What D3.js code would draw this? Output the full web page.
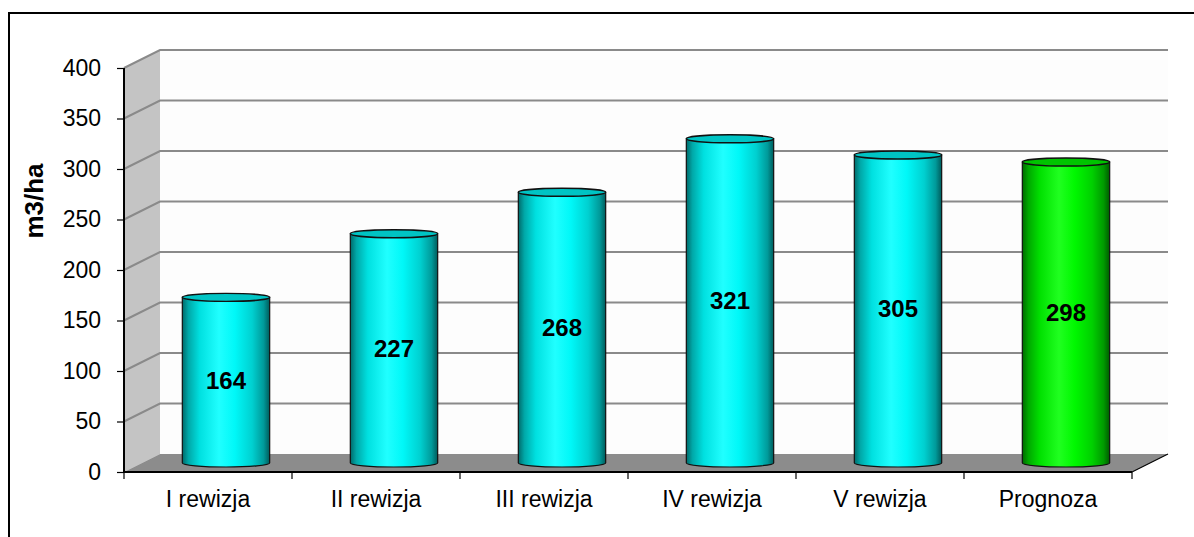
<!DOCTYPE html>
<html>
<head>
<meta charset="utf-8">
<script src="https://cdn.jsdelivr.net/npm/d3@7"></script>
<style>
  html, body { margin: 0; padding: 0; background: #ffffff; }
  svg { display: block; font-family: "Liberation Sans", Arial, sans-serif; }
</style>
</head>
<body>
<svg id="chart" width="1194" height="537"></svg>
<script>
// Standing volume per hectare at successive forest inventories, plus forecast
const categories = ["I rewizja", "II rewizja", "III rewizja", "IV rewizja", "V rewizja", "Prognoza"];
const values = [164, 227, 268, 321, 305, 298];
const kinds = ["fact", "fact", "fact", "fact", "fact", "forecast"];
const yTicks = [0, 50, 100, 150, 200, 250, 300, 350, 400];
const yTitle = "m3/ha";

const svg = d3.select("#chart");
const W = 1194, H = 537;

// plot frame (front plane) and 3D depth offset
const plotL = 124, plotR = 1132, plotT = 68, plotB = 472;
const depthX = 36, depthY = 18;

const x = d3.scaleBand().domain(categories).range([plotL, plotR]).padding(0);
const y = d3.scaleLinear().domain([0, 400]).range([plotB, plotT]);

const defs = svg.append("defs");
function cylGradient(id, stops) {
  const g = defs.append("linearGradient").attr("id", id)
    .attr("x1", "0%").attr("x2", "100%").attr("y1", "0%").attr("y2", "0%");
  stops.forEach(([o, c]) => g.append("stop").attr("offset", o).attr("stop-color", c));
}
cylGradient("gFact", [
  [0, "#006a6a"], [0.07, "#00a8a8"], [0.2, "#00e0e0"], [0.42, "#20ffff"],
  [0.6, "#00f8f8"], [0.8, "#00d0d0"], [0.93, "#009a9a"], [1, "#005c5c"]
]);
cylGradient("gForecast", [
  [0, "#006a00"], [0.07, "#00a800"], [0.2, "#00e000"], [0.42, "#20ff20"],
  [0.6, "#00f800"], [0.8, "#00d000"], [0.93, "#009a00"], [1, "#005c00"]
]);
const bodyFill = { fact: "url(#gFact)", forecast: "url(#gForecast)" };
const capFill = { fact: "#00c4c4", forecast: "#00c400" };

// outer frame
svg.append("rect").attr("x", 9).attr("y", 13).attr("width", W + 20).attr("height", H + 40)
  .attr("fill", "#ffffff").attr("stroke", "#000000").attr("stroke-width", 2);

// back wall
svg.append("rect")
  .attr("x", plotL + depthX).attr("y", plotT - depthY)
  .attr("width", plotR - plotL).attr("height", plotB - plotT)
  .attr("fill", "#fdfdfd");

// side wall
svg.append("path")
  .attr("d", `M${plotL},${plotB} L${plotL},${plotT} L${plotL + depthX},${plotT - depthY} L${plotL + depthX},${plotB - depthY} Z`)
  .attr("fill", "#c4c4c4");

// gridlines on the side and back walls
const grid = svg.append("g").attr("stroke", "#8a8a8a").attr("stroke-width", 2).attr("fill", "none");
yTicks.filter(t => t > 0).forEach(t => {
  grid.append("path")
    .attr("d", `M${plotL},${y(t)} L${plotL + depthX},${y(t) - depthY} L${plotR + depthX},${y(t) - depthY}`);
});

// floor
svg.append("path")
  .attr("d", `M${plotL},${plotB} L${plotL + depthX},${plotB - depthY} L${plotR + depthX},${plotB - depthY} L${plotR},${plotB} Z`)
  .attr("fill", "#8c8c8c");
svg.append("path")
  .attr("d", `M${plotR},${plotB} L${plotR + depthX},${plotB - depthY}`)
  .attr("stroke", "#000000").attr("stroke-width", 1.2);

// cylinders
const rx = x.bandwidth() * 0.26, ry = 4;
const bars = svg.append("g");
categories.forEach((c, i) => {
  const cx = x(c) + x.bandwidth() / 2 + depthX / 2;
  const base = y(0) - depthY / 2;
  const topY = y(values[i]) - depthY / 2;
  bars.append("path")
    .attr("d", `M${cx - rx},${topY} L${cx - rx},${base} A${rx},${ry} 0 0 0 ${cx + rx},${base} L${cx + rx},${topY} Z`)
    .attr("fill", bodyFill[kinds[i]]).attr("stroke", "#111111").attr("stroke-width", 1.2);
  bars.append("ellipse")
    .attr("cx", cx).attr("cy", topY).attr("rx", rx).attr("ry", ry)
    .attr("fill", capFill[kinds[i]]).attr("stroke", "#111111").attr("stroke-width", 1.4);
  bars.append("text")
    .attr("x", cx).attr("y", (topY + base) / 2)
    .attr("text-anchor", "middle").attr("dominant-baseline", "central")
    .attr("font-size", 24).attr("font-weight", "bold").attr("fill", "#000000")
    .text(values[i]);
});

// axes
const yAxis = svg.append("g").attr("transform", `translate(${plotL},0)`)
  .call(d3.axisLeft(y).tickValues(yTicks).tickSize(7).tickPadding(16));
const xAxis = svg.append("g").attr("transform", `translate(0,${plotB})`)
  .call(d3.axisBottom(x).tickSize(0).tickPadding(19));
[yAxis, xAxis].forEach(a => {
  a.select(".domain").attr("stroke", "#000000").attr("stroke-width", 2);
  a.selectAll(".tick line").attr("stroke", "#000000").attr("stroke-width", 1.2);
  a.selectAll("text").attr("font-size", 23).attr("fill", "#000000")
    .attr("font-family", "'Liberation Sans', Arial, sans-serif");
});
yAxis.select(".domain").attr("d", `M0,${plotT}V${plotB}`);
xAxis.select(".domain").attr("d", `M${plotL},0H${plotR}`);
// category separators below the floor edge
xAxis.selectAll(".sep").data(categories.concat(["_end"])).join("line")
  .attr("class", "sep")
  .attr("x1", (d, i) => plotL + i * x.step()).attr("x2", (d, i) => plotL + i * x.step())
  .attr("y1", 0).attr("y2", 7).attr("stroke", "#000000").attr("stroke-width", 1.2);

// axis title
svg.append("text")
  .attr("transform", "translate(34,201) rotate(-90)")
  .attr("text-anchor", "middle").attr("dominant-baseline", "central")
  .attr("font-size", 26).attr("font-weight", "bold").attr("fill", "#000000")
  .text(yTitle);
</script>
</body>
</html>
